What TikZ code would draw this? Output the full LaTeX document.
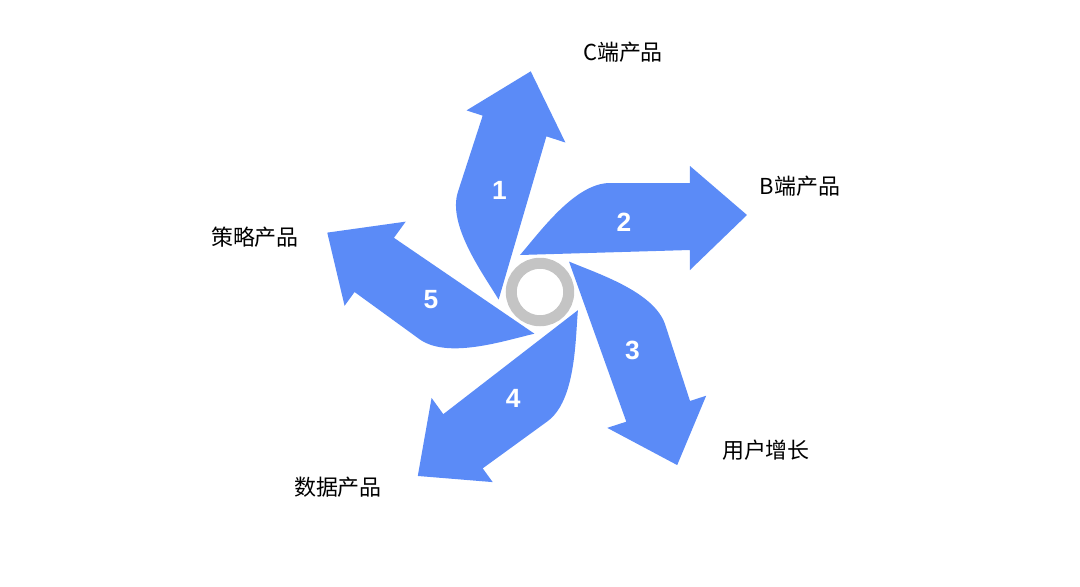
\documentclass[tikz,border=0pt]{standalone}
\usepackage{fontspec}
\setmainfont{Liberation Sans}
\newfontfamily\cjk{Noto Sans CJK SC}
\definecolor{ArrowColor}{HTML}{5B8BF7}
\definecolor{RingColor}{HTML}{C4C4C4}
\tikzset{petal/.style={fill=ArrowColor, draw=none},
         numlabel/.style={text=white, font=\bfseries\fontsize{15}{15}\selectfont},
         outlabel/.style={font=\cjk\fontsize{12.5}{14}\selectfont}}
\begin{document}
\begin{tikzpicture}[x=0.02cm, y=0.02cm]
    \useasboundingbox (-540,-294) rectangle (540,292);

    \foreach \a/\n in {0/2, 72/1, 144/5, 216/4, 288/3} {
        \begin{scope}[rotate=\a]
            \fill[petal] (-20,37) -- (150,42) -- (150,22) -- (207,77) -- (150,126)
                -- (150,109) -- (70,109) .. controls (35,109) and (0,60) .. cycle;
            \node (num\n) [numlabel] at (84,70) {\n};
        \end{scope}
    }

    \node (center_ring) [circle, draw=RingColor, line width=2.2mm, fill=white,
                         minimum size=1.15cm] at (0,0) {};

    \node (label_c)     [outlabel] at (83,240)    {C端产品};
    \node (label_b)     [outlabel] at (260,106)   {B端产品};
    \node (label_user)  [outlabel] at (226,-158)  {用户增长};
    \node (label_data)  [outlabel] at (-202,-195) {数据产品};
    \node (label_strat) [outlabel] at (-285,55)   {策略产品};
\end{tikzpicture}
\end{document}
